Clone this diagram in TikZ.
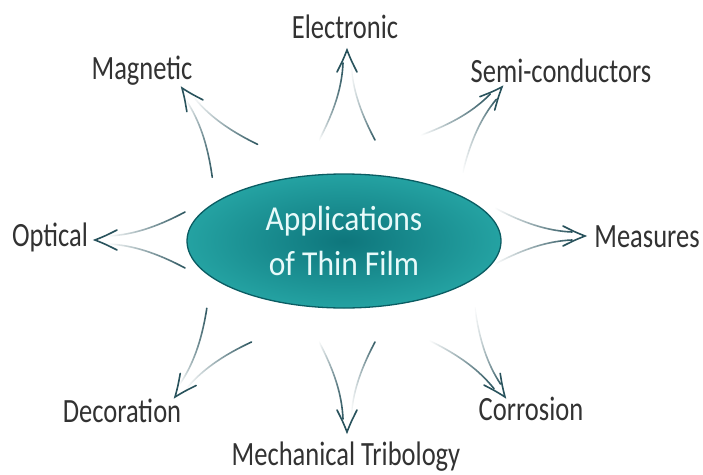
\documentclass[tikz,border=0pt]{standalone}
\usepackage{fontspec}
\setmainfont{Carlito}
\newfontfamily\narrowfont[FakeStretch=0.78]{Carlito}
\newfontfamily\hubfont[FakeStretch=0.9]{Carlito}
\usetikzlibrary{shapes.geometric,fadings}

\definecolor{filmteal}{RGB}{36,162,162}
\definecolor{filmdark}{RGB}{14,118,124}
\definecolor{filmedge}{RGB}{10,92,98}
\definecolor{filmtext}{RGB}{232,250,250}
\definecolor{strokecol}{RGB}{40,82,92}
\definecolor{labelgray}{RGB}{50,50,50}

\tikzfading[name=tailfade, left color=transparent!100, right color=transparent!0]

\tikzset{
  topic/.style={font=\narrowfont\fontsize{34}{40}\selectfont, text=labelgray, inner sep=0pt},
  hub/.style={ellipse, draw=filmedge, line width=1.3pt, inner color=filmdark, outer color=filmteal,
    minimum width=314pt, minimum height=134pt, text=filmtext, align=center,
    font=\hubfont\fontsize{35}{45}\selectfont},
  barb/.style={strokecol, line width=1.6pt, line cap=round},
  shaft/.style={barb, path fading=tailfade},
  % double stroke arrow, tip at the origin, pointing along +x
  fanarrow/.pic={
    \draw[barb] (-22,-10) .. controls (-10,-4) .. (0,0) .. controls (-10,4) .. (-22,10);
    \draw[shaft] (-90,-28) .. controls (-60,-12) and (-36,-5) .. (-13,-4);
    \draw[shaft] (-90,28) .. controls (-60,12) and (-36,5) .. (-13,4);
  }
}

\begin{document}
\begin{tikzpicture}[x=1pt, y=-1pt]
\useasboundingbox (0,0) rectangle (703,474);

\node[hub] (film) at (344,241) {Applications\\of Thin Film};

\node[topic] (elec) at (345,27) {Electronic};
\node[topic] (magn) at (142,71) {Magnetic};
\node[topic] (semi) at (561,71) {Semi-conductors};
\node[topic] (opti) at (50,237) {Optical};
\node[topic] (meas) at (647,237) {Measures};
\node[topic] (deco) at (122,411) {Decoration};
\node[topic] (corr) at (531,409) {Corrosion};
\node[topic] (mech) at (346,457) {Mechanical Tribology};

% arrow tips, one per topic
\coordinate (tipElec) at (347,50);
\coordinate (tipMagn) at (182,88);
\coordinate (tipSemi) at (502,87);
\coordinate (tipOpti) at (95,240);
\coordinate (tipMeas) at (585,236);
\coordinate (tipDeco) at (175,397);
\coordinate (tipCorr) at (505,397);
\coordinate (tipMech) at (347,432);

\pic[rotate=90] at (tipElec) {fanarrow};
\pic[rotate=126] at (tipMagn) {fanarrow};
\pic[rotate=48] at (tipSemi) {fanarrow};
\pic[rotate=180] at (tipOpti) {fanarrow};
\pic[rotate=0] at (tipMeas) {fanarrow};
\pic[rotate=233] at (tipDeco) {fanarrow};
\pic[rotate=-54] at (tipCorr) {fanarrow};
\pic[rotate=-90] at (tipMech) {fanarrow};
\end{tikzpicture}
\end{document}
